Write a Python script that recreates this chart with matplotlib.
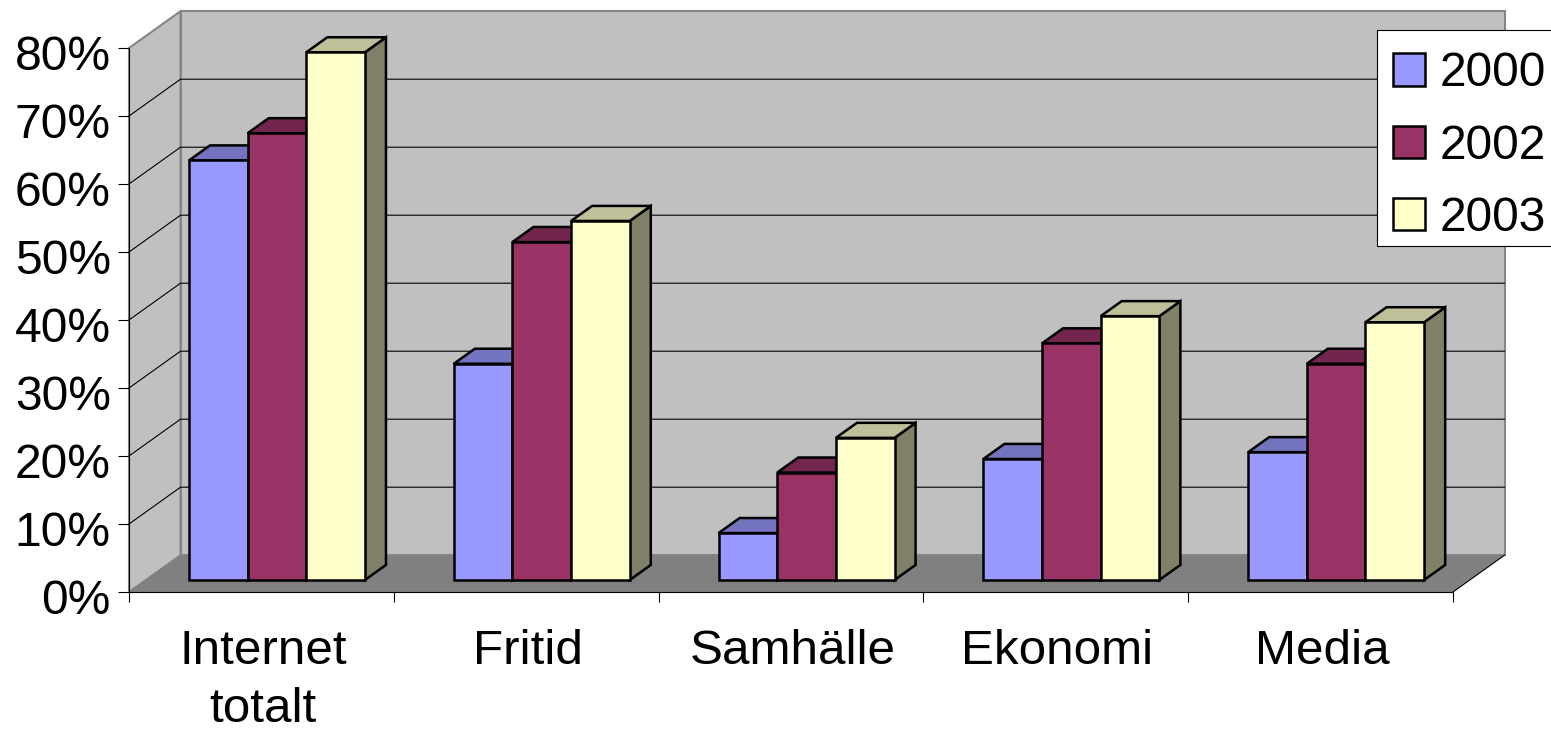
import matplotlib
matplotlib.use("Agg")
import matplotlib.pyplot as plt
from matplotlib.patches import Polygon, Patch, Rectangle
from matplotlib.ticker import FixedLocator, FixedFormatter
from matplotlib.transforms import ScaledTranslation
import numpy as np

categories = ["Internet\ntotalt", "Fritid", "Samhälle", "Ekonomi", "Media"]
series_names = ["2000", "2002", "2003"]
values_2000 = [61.7, 31.8, 6.9, 17.8, 18.8]
values_2002 = [65.7, 49.7, 15.8, 34.8, 31.8]
values_2003 = [77.6, 52.8, 20.9, 38.8, 37.9]
y_ticks = [0, 10, 20, 30, 40, 50, 60, 70, 80]

front_colors = ["#9999FF", "#993366", "#FFFFCC"]
top_colors = ["#7373BF", "#73264D", "#BFBF99"]
side_colors = ["#4D4D80", "#4D1A33", "#808066"]

W, H = 1551, 734
L, R, T, B = 129, 1453, 48, 592
DX = 51.5 / (R - L) * 5      # depth shift in category units
DY = 36.8 / (B - T) * 80     # depth shift in percent units
BAR_D0, BAR_D1 = 0.326, 0.735
GROUP_START, BAR_W = 0.163, 0.2215

plt.rcParams["font.family"] = ["Liberation Sans", "DejaVu Sans"]
FS_Y, FS_X, FS_LEG = 34.6, 35.6, 34.5
EDGE = 1.8

fig = plt.figure(figsize=(W / 100, H / 100), dpi=100, facecolor="white")
ax = fig.add_axes([L / W, (H - B) / H, (R - L) / W, (B - T) / H])
ax.set_xlim(0, 5)
ax.set_ylim(0, 80)
ax.patch.set_visible(False)


def P(x, y, d):
    return (x + d * DX, y + d * DY)


def face(pts, fc, ec="none", lw=0, z=1, join="miter"):
    ax.add_patch(Polygon(pts, closed=True, facecolor=fc, edgecolor=ec, linewidth=lw,
                         zorder=z, clip_on=False, joinstyle=join))


WALL = "#C0C0C0"
WALL_EDGE = "#868686"
# side wall, back wall, floor
face([P(0, 0, 0), P(0, 0, 1), P(0, 80, 1), P(0, 80, 0)], WALL, WALL_EDGE, 1.5, 1)
face([P(0, 0, 1), P(5, 0, 1), P(5, 80, 1), P(0, 80, 1)], WALL, WALL_EDGE, 1.5, 1)
face([P(0, 0, 0), P(5, 0, 0), P(5, 0, 1), P(0, 0, 1)], "#808080", z=1.5)
ax.plot(*zip(P(5, 0, 0), P(5, 0, 1)), color="black", lw=0.8, zorder=1.6, clip_on=False)

# gridlines on side and back walls
for v in y_ticks[1:-1]:
    ax.plot(*zip(P(0, v, 0), P(0, v, 1), P(5, v, 1)), color="black", lw=0.8, zorder=2, clip_on=False)

# bars
series = [values_2000, values_2002, values_2003]
z = 3
for i in range(len(categories)):
    for s, vals in enumerate(series):
        x0 = i + GROUP_START + s * BAR_W
        x1 = x0 + BAR_W
        v = vals[i]
        kw = dict(ec="black", lw=EDGE, z=z)
        face([P(x1, 0, BAR_D0), P(x1, 0, BAR_D1), P(x1, v, BAR_D1), P(x1, v, BAR_D0)], side_colors[s], **kw)
        face([P(x0, v, BAR_D0), P(x1, v, BAR_D0), P(x1, v, BAR_D1), P(x0, v, BAR_D1)], top_colors[s], **kw)
        face([P(x0, 0, BAR_D0), P(x1, 0, BAR_D0), P(x1, v, BAR_D0), P(x0, v, BAR_D0)], front_colors[s], **kw)
        z += 0.01

# axes
for sp in ("top", "right"):
    ax.spines[sp].set_visible(False)
for sp in ("left", "bottom"):
    ax.spines[sp].set_linewidth(0.8)
    ax.spines[sp].set_zorder(2.5)
ax.set_yticks(y_ticks)
ax.set_yticklabels([f"{v}%" for v in y_ticks], fontsize=FS_Y)
ax.tick_params(axis="y", length=8, width=0.8, pad=5)
shift = ScaledTranslation(0, -4.5 / 100, fig.dpi_scale_trans)
for t in ax.get_yticklabels():
    t.set_transform(t.get_transform() + shift)
ax.xaxis.set_major_locator(FixedLocator(range(len(categories) + 1)))
ax.xaxis.set_major_formatter(FixedFormatter([""] * (len(categories) + 1)))
ax.xaxis.set_minor_locator(FixedLocator(np.arange(len(categories)) + 0.5))
ax.xaxis.set_minor_formatter(FixedFormatter(categories))
ax.tick_params(axis="x", which="major", length=7.5, width=0.8)
ax.tick_params(axis="x", which="minor", length=0, pad=27, labelsize=FS_X)
xshift = ScaledTranslation(1.5 / 100, 0, fig.dpi_scale_trans)
for t in ax.xaxis.get_minorticklabels():
    t.set_linespacing(1.36)
    t.set_transform(t.get_transform() + xshift)

# legend
ax.add_patch(Rectangle((1377 / W, 1 - 246 / H), 200 / W, 216 / H, transform=fig.transFigure,
                       facecolor="white", edgecolor="black", linewidth=0.8, zorder=9, clip_on=False))
handles = [Patch(facecolor=c, edgecolor="black", linewidth=EDGE, label=n)
           for c, n in zip(front_colors, series_names)]
leg = ax.legend(handles=handles, loc="upper left",
                bbox_to_anchor=(1393 / W, 1 - 51.5 / H), bbox_transform=fig.transFigure,
                fontsize=FS_LEG, frameon=False, borderaxespad=0, borderpad=0,
                handlelength=0.668, handleheight=0.668,
                handletextpad=0.31, labelspacing=0.568)
leg.set_zorder(10)

fig.savefig("out.png", dpi=100)
